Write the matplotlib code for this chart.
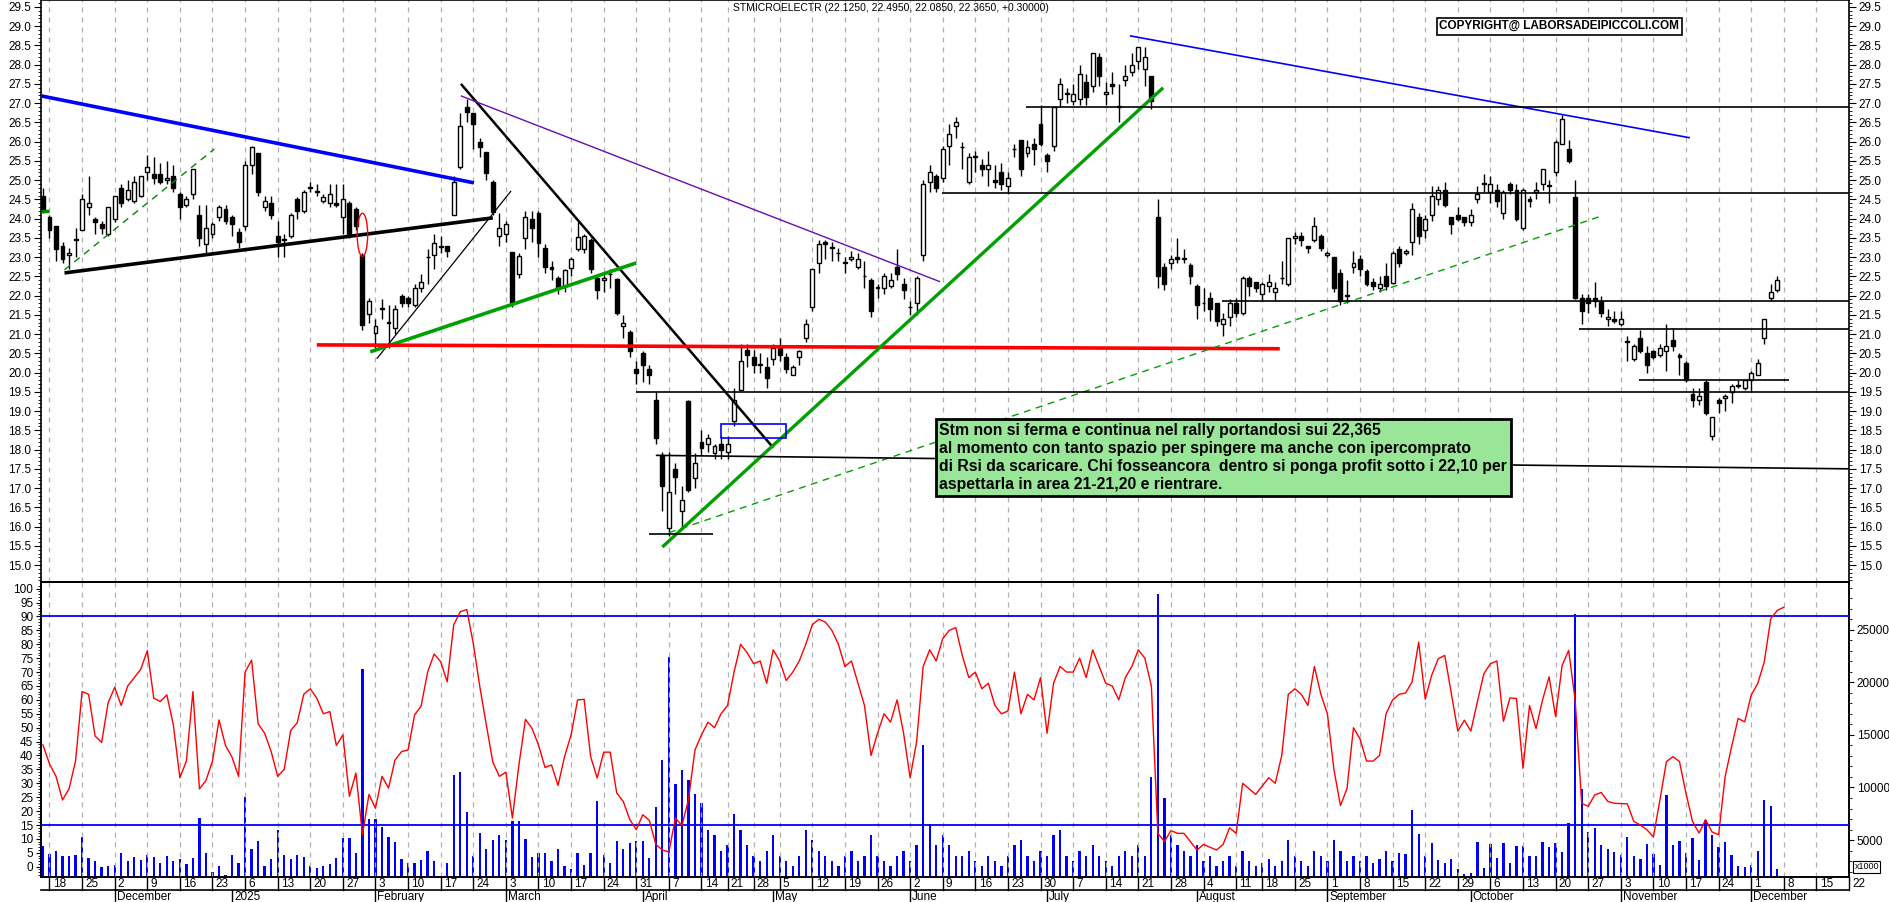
import numpy as np
import pandas as pd
import matplotlib
matplotlib.use("Agg")
import matplotlib.pyplot as plt
from matplotlib.patches import Ellipse, Rectangle
from matplotlib.transforms import blended_transform_factory

# ---------------- DATA ----------------
opens = [24.6,24.05,23.8,23.3,23.05,23.45,23.7,24.3,24.0,23.85,23.6,24.0,24.8,24.5,24.45,24.6,25.2,25.15,25.15,25.0,
 25.1,24.65,24.35,24.65,24.1,23.35,23.6,24.05,24.25,24.05,23.65,23.8,25.4,25.7,24.3,24.4,23.55,23.45,23.55,24.5,
 24.2,24.8,24.7,24.45,24.4,24.4,24.05,24.4,24.25,23.06,21.53,21.03,21.66,21.3,21.16,22.0,21.95,21.75,22.2,23.0,
 23.06,23.27,23.3,24.1,25.35,26.9,26.75,26.0,25.73,24.95,23.55,23.6,23.14,22.56,23.5,23.98,24.15,23.24,22.75,22.46,
 22.26,22.72,23.2,23.2,23.45,22.46,22.4,22.55,22.43,21.2,21.05,20.1,20.5,20.1,19.3,17.85,15.95,17.5,16.4,19.25,
 17.25,18.2,18.15,17.9,18.15,17.95,18.75,19.55,20.6,20.4,20.2,20.15,20.35,20.65,20.4,19.95,20.4,20.9,21.7,22.85,
 23.4,23.25,23.1,22.85,22.95,22.75,22.5,22.4,22.2,22.2,22.25,22.75,22.3,21.7,21.8,23.05,24.95,25.1,25.05,25.9,
 26.4,25.85,24.95,25.6,25.4,25.3,25.0,25.2,24.85,25.8,26.05,25.7,25.95,26.45,25.65,25.9,27.1,27.25,27.05,27.1,
 27.55,27.45,28.2,27.25,27.5,26.9,27.6,27.8,28.1,27.9,27.7,24.05,22.75,22.85,23.0,22.95,22.8,22.25,21.8,21.95,
 21.8,21.25,21.45,21.8,21.55,22.45,22.35,22.05,22.25,22.1,22.45,22.3,23.5,23.55,23.3,23.45,23.55,23.05,23.0,22.6,
 22.0,22.75,22.95,22.65,22.35,22.2,22.5,22.33,23.2,23.1,23.4,24.05,23.7,24.1,24.5,24.75,24.05,24.1,24.05,23.9,
 24.5,24.9,24.7,24.75,24.15,24.9,24.75,23.75,24.5,24.7,24.9,24.85,25.2,25.95,25.8,24.55,21.95,21.95,21.95,21.85,
 21.4,21.4,21.25,20.8,20.35,20.9,20.5,20.55,20.45,20.55,20.85,20.45,20.25,19.45,19.3,19.75,18.35,19.3,19.35,19.5,
 19.65,19.6,19.8,19.95,20.9,21.95,22.15]
closes = [24.2,23.7,23.2,22.95,23.1,23.45,24.5,24.4,23.9,23.75,24.3,24.6,24.4,24.75,24.95,25.1,25.35,25.05,24.95,25.05,
 24.8,24.3,24.5,25.3,23.5,23.75,23.85,24.3,23.95,23.85,23.4,25.4,25.85,24.7,24.45,24.1,23.4,23.45,24.1,24.2,
 24.7,24.8,24.7,24.55,24.65,24.35,24.5,23.6,23.8,21.24,21.86,21.2,21.66,21.3,21.66,21.8,21.8,22.2,22.35,23.0,
 23.37,23.27,23.15,24.95,26.4,26.77,26.46,25.86,25.19,24.17,23.76,23.85,21.81,23.03,24.05,23.76,23.37,22.75,22.7,22.2,
 22.67,22.95,23.53,23.55,22.7,22.15,22.45,22.55,21.55,21.3,20.55,20.0,20.2,19.95,18.3,17.05,16.9,17.3,16.7,16.95,
 17.65,18.05,18.3,18.1,18.0,18.15,19.3,20.3,20.45,20.2,20.2,19.85,20.65,20.45,20.1,20.15,20.55,21.25,22.7,23.35,
 23.35,23.25,23.1,22.85,23.0,22.95,22.5,21.6,22.2,22.5,22.4,22.55,22.15,21.7,22.45,24.9,25.2,24.8,25.8,26.2,
 26.5,25.85,25.6,25.6,25.3,25.4,24.95,24.9,25.05,25.8,25.3,25.85,25.8,25.95,25.5,26.9,27.5,27.25,27.25,27.75,
 27.15,28.3,27.7,27.3,27.45,26.9,27.7,28.0,28.45,28.2,27.05,22.5,22.3,22.95,22.95,22.95,22.5,21.75,21.8,21.65,
 21.35,21.4,21.8,21.55,22.45,22.25,22.2,22.3,22.35,22.2,22.45,23.5,23.55,23.45,23.25,23.8,23.25,23.1,22.2,21.85,
 22.0,22.85,22.7,22.3,22.25,22.3,22.24,23.1,22.85,23.15,24.25,23.55,24.0,24.6,24.75,24.35,23.85,24.0,23.9,24.1,
 24.65,24.9,24.9,24.45,24.7,24.75,24.0,24.75,24.45,24.75,25.3,24.85,26.0,26.6,25.5,21.95,21.6,21.8,21.85,21.55,
 21.45,21.35,21.4,20.8,20.7,20.55,20.2,20.4,20.65,20.7,20.7,20.4,19.8,19.3,19.4,18.95,18.85,19.2,19.4,19.65,
 19.65,19.8,20.0,20.25,21.4,22.1,22.4]
highs = [24.8,24.1,23.8,23.4,23.25,23.75,24.65,25.1,24.05,23.95,24.3,24.6,24.9,25.0,25.1,25.1,25.65,25.6,25.45,25.5,
 25.4,24.7,24.6,25.3,24.35,24.35,23.9,24.35,24.35,24.1,23.75,25.5,25.9,25.7,24.6,24.6,23.95,23.6,24.15,24.55,
 24.75,24.95,24.9,24.65,24.9,24.9,24.9,24.45,24.3,23.1,21.95,21.4,21.9,21.75,21.75,22.05,22.0,22.3,22.55,23.2,
 23.6,23.55,23.3,25.1,26.75,27.1,26.75,26.1,25.73,25.0,24.15,23.95,23.14,23.1,24.2,24.2,24.2,23.35,22.9,22.5,
 22.7,23.0,23.9,23.6,23.5,22.5,22.55,22.7,22.45,21.5,21.1,20.3,20.55,20.2,19.5,17.95,17.95,17.65,17.05,19.3,
 17.9,18.5,18.4,18.15,18.35,18.35,19.6,20.75,20.75,20.6,20.5,20.4,20.75,20.9,20.5,20.2,20.6,21.4,22.7,23.45,
 23.45,23.4,23.25,23.0,23.15,23.1,22.9,22.45,22.3,22.6,22.6,23.2,22.45,21.85,22.5,25.0,25.4,25.15,25.9,26.45,
 26.65,26.0,25.7,25.75,25.55,25.75,25.4,25.45,25.2,25.95,26.05,26.05,26.1,26.95,25.7,26.9,27.65,27.4,27.5,28.0,
 27.75,28.3,28.3,27.55,27.8,27.5,28.0,28.3,28.45,28.45,27.7,24.5,22.85,23.05,23.5,23.2,22.85,22.3,22.2,22.1,
 21.8,21.55,21.9,21.95,22.5,22.5,22.35,22.35,22.55,22.35,22.9,23.5,23.65,23.65,23.3,24.05,23.6,23.15,23.0,22.7,
 22.4,23.15,23.05,22.7,22.45,22.5,22.85,23.15,23.3,23.2,24.4,24.15,24.1,24.85,24.85,24.95,24.05,24.3,24.05,24.25,
 24.85,25.15,25.1,24.9,24.75,24.95,24.9,24.8,24.6,24.95,25.3,25.0,26.05,26.7,26.05,25.0,22.05,22.05,22.35,22.0,
 21.65,21.6,21.6,20.95,20.75,21.1,20.7,20.6,20.75,21.25,21.15,20.5,20.3,19.6,19.6,19.8,18.85,19.35,19.45,19.7,
 19.8,19.8,20.05,20.35,21.4,22.3,22.5]
lows = [24.15,23.5,22.9,22.85,22.7,23.0,23.7,24.1,23.6,23.6,23.55,23.9,24.3,24.45,24.4,24.55,25.0,24.9,24.9,24.9,
 24.7,24.0,24.3,24.5,23.3,23.1,23.5,23.95,23.85,23.55,23.25,23.7,25.15,24.6,24.2,24.0,23.0,23.0,23.5,24.0,
 24.15,24.7,24.6,24.4,24.3,24.3,23.6,23.5,23.7,21.1,21.3,20.65,21.4,20.65,21.0,21.7,21.7,21.7,22.1,22.3,
 22.7,23.1,23.0,24.1,25.3,26.5,25.8,25.6,25.0,24.1,23.3,23.4,21.7,22.45,23.2,23.4,23.0,22.6,22.4,22.05,
 22.1,22.5,23.15,23.1,22.6,21.9,22.1,22.2,21.5,20.9,20.4,19.7,19.75,19.7,18.15,16.4,15.75,16.85,15.95,16.9,
 17.0,17.85,17.95,17.75,17.75,17.75,18.6,19.55,20.15,20.0,20.0,19.6,20.2,20.3,20.0,19.95,20.2,20.8,21.6,22.6,
 22.95,22.9,22.9,22.6,22.9,22.7,22.2,21.45,21.95,22.05,22.2,22.4,21.9,21.5,21.5,22.9,24.7,24.7,24.95,25.4,
 26.1,25.3,24.9,25.2,25.1,24.85,24.8,24.75,24.65,25.6,25.1,25.6,25.4,25.9,25.2,25.75,26.9,27.0,26.95,26.95,
 26.95,27.3,27.45,26.95,27.25,26.5,27.45,27.7,27.9,27.45,26.85,22.2,22.15,22.7,22.85,22.85,22.3,21.4,21.6,21.35,
 21.2,20.95,21.2,21.45,21.5,22.0,22.1,21.85,22.1,21.85,22.3,22.25,23.35,23.3,23.1,23.4,23.15,23.0,22.1,21.75,
 21.8,22.6,22.5,22.25,22.15,22.1,22.15,22.3,22.75,23.05,23.05,23.35,23.5,23.95,24.35,24.3,23.6,23.95,23.8,23.8,
 24.4,24.7,24.4,24.3,24.0,24.65,23.95,23.7,24.3,24.5,24.75,24.4,25.1,25.95,25.45,21.9,21.25,21.55,21.7,21.45,
 21.2,21.3,21.2,20.3,20.3,20.5,20.0,20.35,20.4,20.05,20.55,19.95,19.75,19.1,19.15,18.9,18.25,18.95,19.0,19.2,
 19.6,19.55,19.5,19.95,20.75,21.85,22.1]

rsi = [43.8,37,32.5,24,28,38,63,62,47,44.7,59,64.5,58,65,68,71,77.7,60.6,59.4,61.8,
 51,32,38,63,28,31,38,52.8,43.6,39.4,32.5,70,74.3,51.4,48,41.4,32.5,35,49,51.8,
 62,64,60.6,55,55.8,43.6,47.4,25.3,33.7,11.5,26,21,32.5,28.3,38.4,41.4,42,54.6,57.8,70,
 76.5,73.7,66.5,87,91.7,92.5,80.3,64.8,51,37.6,32.5,34,17.5,36.6,53,49.8,43.8,35.7,36.6,29.2,
 39.6,47.4,60,60.2,39.6,31.9,41.2,41.2,26.5,23.5,17,13.3,18.7,16.7,8,6,5.3,17.5,14.8,24,
 42,47.4,52,50,55,58,70,80,77,73,74,66,78,74,67,70,74,80,87,89,
 88,85,80,72,74,66,58,40,48,55,52,60,48,32,45,72,78,74,82,85,
 86,76,68,70,64,66,58,55,56,70,55,62,60,68,48,66,72,70,70,75,
 68,78,72,66,65,60,68,72,78,75,65,12,9,13,12,12,9,6,8,7,
 6,8,14,12,30,28,26,29,32,30,40,62,64,62,58,72,62,55,35,22,
 28,50,46,38,38,40,55,60,62,62.5,66.5,80.8,60.3,68.9,74.8,76,62.3,48.8,52.7,48.8,
 59.3,69.4,73,74,52.3,60.7,60.5,35.4,58,49.7,60,68.3,54,72.4,77.8,59.9,22.8,21.7,25.8,26.7,
 23.5,22.8,22.7,22.6,16.3,15,13.3,10.7,24,37.8,39.6,37.8,26.4,16.3,12.1,16.9,12.5,11.5,32.4,43.2,
 53.3,52.1,61.7,65.9,73.6,89.2,92.2,93.3]

volume_k = [4.4,3.7,4.0,3.5,3.5,3.6,5.3,3.3,3.0,2.4,2.5,2.6,3.8,3.0,3.4,3.1,3.6,3.4,2.8,3.5,
 3.0,3.2,2.7,3.3,7.1,3.8,2.0,2.5,1.7,3.6,2.8,9.1,4.1,4.9,2.5,3.2,6.0,3.6,3.2,3.6,
 3.4,2.5,2.3,2.5,2.7,3.3,5.2,5.2,3.8,21.3,7.0,7.0,6.2,5.3,4.8,3.2,2.8,2.8,3.1,4.0,
 3.0,1.6,2.8,11.2,11.5,7.7,3.5,5.7,4.1,5.0,5.5,5.0,6.8,6.8,5.1,3.4,3.8,3.8,3.0,4.1,
 2.5,2.2,3.8,2.6,3.8,8.7,3.6,2.8,4.9,4.1,4.7,4.9,4.9,3.3,8.1,12.6,22.4,10.3,11.7,10.7,
 9.4,8.5,6.0,5.5,4.0,4.5,7.5,6.0,4.5,3.5,3.0,4.0,5.5,3.5,3.0,2.5,3.5,6.0,5.0,4.0,
 3.5,3.0,2.5,3.5,4.0,3.0,3.5,5.5,3.5,3.0,2.5,3.5,4.0,3.0,4.5,14.0,6.5,4.5,5.5,4.5,
 3.5,3.5,4.0,3.0,2.5,3.5,3.0,2.5,3.5,4.5,5.0,3.5,3.0,4.0,3.5,5.5,6.0,3.5,3.0,4.0,
 3.5,4.5,3.5,3.0,2.5,3.5,4.0,3.5,4.5,3.5,11.0,28.4,9.0,5.5,4.5,4.0,3.5,4.5,3.0,3.5,
 2.5,3.0,3.5,2.5,4.0,3.0,2.5,2.8,3.2,2.5,3.0,5.0,3.5,3.0,2.5,4.0,3.5,3.0,5.0,4.0,
 3.0,3.5,3.0,3.5,2.8,3.2,4.0,3.0,3.8,3.7,7.9,5.6,3.5,4.7,3.1,2.8,3.2,2.2,1.8,1.9,
 4.8,2.3,4.6,3.3,4.7,2.8,4.4,4.4,3.5,3.5,4.8,4.3,4.7,3.9,6.6,26.5,9.9,5.8,6.1,4.5,
 4.1,3.9,3.6,5.3,3.5,3.2,4.6,3.7,2.6,9.3,4.5,4.9,3.8,5.2,3.1,6.9,5.5,4.3,4.8,3.6,
 2.5,2.4,2.6,4.0,8.8,8.2,2.2]

holidays = ["2024-12-24","2024-12-25","2024-12-26","2024-12-31","2025-01-01",
            "2025-04-18","2025-04-21","2025-05-01","2025-08-15"]
month_names = {1:"2025",2:"February",3:"March",4:"April",5:"May",6:"June",7:"July",
               8:"August",9:"September",10:"October",11:"November",12:"December"}

title_text = "STMICROELECTR (22.1250, 22.4950, 22.0850, 22.3650, +0.30000)"
note_text = ("Stm non si ferma e continua nel rally portandosi sui 22,365\n"
             "al momento con tanto spazio per spingere ma anche con ipercomprato\n"
             "di Rsi da scaricare. Chi fosseancora  dentro si ponga profit sotto i 22,10 per\n"
             "aspettarla in area 21-21,20 e rientrare.")

# trendline drawings: (x0, y0, x1, y1, color, lw, style)
trendlines = [
    (-0.3, 27.19, 66.1, 24.93, "#0000ff", 2.6, "-"),
    (3.3, 22.59, 69.0, 24.02, "black", 2.6, "-"),
    (3.3, 22.67, 26.3, 25.81, "#008800", 1.0, (0, (5, 4))),
    (-0.3, 24.2, 1.0, 24.2, "#008800", 2.5, "-"),
    (51.2, 20.36, 71.8, 24.72, "black", 0.9, "-"),
    (64.1, 27.5, 112.0, 18.05, "black", 1.8, "-"),
    (64.1, 27.19, 137.6, 22.36, "#6a0dad", 1.0, "-"),
    (50.2, 20.54, 91.0, 22.85, "#00a000", 2.6, "-"),
    (42.0, 20.72, 189.7, 20.62, "#ff0000", 2.6, "-"),
    (95.0, 15.47, 171.8, 27.40, "#00a000", 2.4, "-"),
    (96.0, 15.84, 238.7, 24.05, "#00a000", 1.0, (0, (5, 4))),
    (166.7, 28.75, 252.6, 26.10, "#0000ff", 1.2, "-"),
    (150.8, 26.9, 277.0, 26.9, "black", 1.2, "-"),
    (137.9, 24.67, 277.0, 24.67, "black", 1.2, "-"),
    (180.8, 21.86, 277.0, 21.86, "black", 1.2, "-"),
    (235.6, 21.13, 277.0, 21.13, "black", 1.2, "-"),
    (244.8, 19.82, 267.8, 19.82, "black", 1.2, "-"),
    (91.0, 19.5, 277.0, 19.5, "black", 1.2, "-"),
    (94.0, 17.85, 277.0, 17.5, "black", 1.2, "-"),
    (93.0, 15.81, 102.7, 15.81, "black", 1.2, "-"),
]

# ---------------- DATES ----------------
days = pd.bdate_range("2024-11-15", "2025-12-31")
days = days[~days.isin(pd.to_datetime(holidays))]
n = len(closes)

# ---------------- FIGURE ----------------
plt.rcParams["font.family"] = ["Liberation Sans", "DejaVu Sans"]
fig = plt.figure(figsize=(18.9, 9.02), dpi=100)
L, R = 41/1890, 1849/1890
ax = fig.add_axes([L, 1-582/902, R-L, 582/902])
axr = fig.add_axes([L, 1-877/902, R-L, 295/902], sharex=ax)
XMIN, XMAX = -0.3, 277.0
ax.set_xlim(XMIN, XMAX)
ax.set_ylim(14.56, 29.68)
axr.set_ylim(-3.7, 102.4)

# week ticks (first trading day of each week; skip partial first week and short holiday weeks)
wk = pd.Series(np.arange(len(days)), index=days)
week_first = wk.groupby(days.to_period("W")).first()
week_pos, week_lab = [], []
prev = -10
for per, idx in week_first.items():
    if idx == 0 and days[0].weekday() > 1:
        continue
    if idx - prev < 4 and week_pos:
        continue
    week_pos.append(idx)
    week_lab.append(str(per.start_time.day))
    prev = idx
week_pos_arr = np.array(week_pos)
mask = week_pos_arr <= XMAX
for a in (ax, axr):
    for p in week_pos_arr[mask]:
        a.axvline(p, color="#b0b0b0", lw=0.9, ls=(0, (4, 4)), zorder=0)

# ---------------- CANDLES ----------------
x = np.arange(n)
o, c, h, l = map(np.array, (opens, closes, highs, lows))
ax.vlines(x, l, h, color="black", lw=1.0, zorder=2)
up = c >= o
bw = 0.6
ax.bar(x[up], np.maximum(c[up]-o[up], 0.015), bottom=o[up], width=bw, color="white",
       edgecolor="black", lw=1.0, zorder=3)
ax.bar(x[~up], o[~up]-c[~up], bottom=c[~up], width=bw, color="black",
       edgecolor="black", lw=1.0, zorder=3)

for x0, y0, x1, y1, col, lw, st in trendlines:
    ax.plot([x0, x1], [y0, y1], color=col, lw=lw, ls=st, zorder=4, solid_capstyle="butt")
ax.add_patch(Ellipse((49, 23.58), 1.6, 1.12, fill=False, ec="red", lw=1.0, zorder=5))
ax.add_patch(Rectangle((104, 18.31), 10, 0.36, fill=False, ec="#0000ff", lw=1.2, zorder=5))

# text box
ax.text(137.5, 18.7, note_text, fontsize=11.3, fontweight="bold", va="top", ha="left",
        family=["Liberation Sans Narrow", "Liberation Sans", "DejaVu Sans"], linespacing=1.25,
        bbox=dict(boxstyle="square,pad=0.25", fc="#99e699", ec="black", lw=2), zorder=6)
ax.text(0.7735, 0.955, "COPYRIGHT@ LABORSADEIPICCOLI.COM", transform=ax.transAxes,
        fontsize=8.5, fontweight="bold", ha="left", va="center",
        bbox=dict(boxstyle="square,pad=0.2", fc="white", ec="black", lw=1.2), zorder=6)
ax.text(0.47, 0.987, title_text, transform=ax.transAxes, fontsize=7.5, ha="center", va="center")

# ---------------- RSI / VOLUME ----------------
axv = axr.twinx()
vmin, vmax = 1.48, 29.56
axv.set_ylim(vmin, vmax)
vk = np.array(volume_k)
axv.bar(np.arange(len(vk)), vk - vmin, bottom=vmin, width=0.35, color="#0000ff", zorder=2)
axr.plot(np.arange(len(rsi)), rsi, color="#ff0000", lw=1.0, zorder=5)
axr.set_zorder(axv.get_zorder() + 1)
axr.patch.set_visible(False)
for lv in (90, 15):
    axr.axhline(lv, color="#0000ff", lw=1.3, zorder=4)

# ---------------- AXES STYLE ----------------
for a in (ax, axr, axv):
    for s in a.spines.values():
        s.set_color("black"); s.set_linewidth(1.2)
ax.tick_params(axis="x", bottom=False, labelbottom=False)
axr.tick_params(axis="x", bottom=False, labelbottom=False)
pt = np.arange(15.0, 29.51, 0.5)
ax.set_yticks(pt)
ax.set_yticklabels([f"{v:.1f}" for v in pt])
ax.set_yticks(np.arange(14.6, 29.65, 0.1), minor=True)
ax.tick_params(axis="y", which="both", left=True, right=True, labelleft=True, labelright=True,
               direction="out", labelsize=8.5, pad=2)
ax.tick_params(axis="y", which="major", length=5)
ax.tick_params(axis="y", which="minor", length=2.5)
rt = np.arange(0, 101, 5)
axr.set_yticks(rt)
axr.set_yticks(np.arange(-3, 102, 1), minor=True)
axr.tick_params(axis="y", which="both", labelsize=8.5, pad=2, direction="out")
axr.tick_params(axis="y", which="minor", length=2.5)
vt = [5, 10, 15, 20, 25]
axv.set_yticks(vt)
axv.set_yticklabels([f"{v*1000:d}" for v in vt])
axv.set_yticks(np.arange(2, 29.6, 1), minor=True)
axv.tick_params(axis="y", which="both", labelsize=8.5, pad=2, direction="out")
axv.tick_params(axis="y", which="minor", length=2.5)
axv.text(1.003, 0.035, "x1000", transform=axv.transAxes, fontsize=6.5, va="center", ha="left",
         bbox=dict(boxstyle="square,pad=0.15", fc="white", ec="black", lw=0.8))

# ---------------- DATE AXIS ----------------
tr = blended_transform_factory(axr.transData, axr.transAxes)
fy = lambda px: (877 - px) / 295
axr.plot([XMIN, XMAX], [fy(890), fy(890)], transform=tr, color="black", lw=1.2, clip_on=False)
for p, lab in zip(week_pos, week_lab):
    if p > XMAX:
        continue
    axr.plot([p, p], [0, fy(890)], transform=tr, color="black", lw=1.0, clip_on=False)
    axr.text(p + 0.5, fy(884), lab, transform=tr, fontsize=8.5, va="center", ha="left", clip_on=False)
month_first = wk.groupby(days.to_period("M")).first()
for per, idx in month_first.items():
    if idx < 1 or idx > XMAX:
        continue
    axr.plot([idx, idx], [fy(890), fy(902)], transform=tr, color="black", lw=1.0, clip_on=False)
    axr.text(idx + 0.3, fy(897), month_names[per.month], transform=tr, fontsize=8.5,
             va="center", ha="left", clip_on=False)

fig.savefig("out.png", dpi=100)
